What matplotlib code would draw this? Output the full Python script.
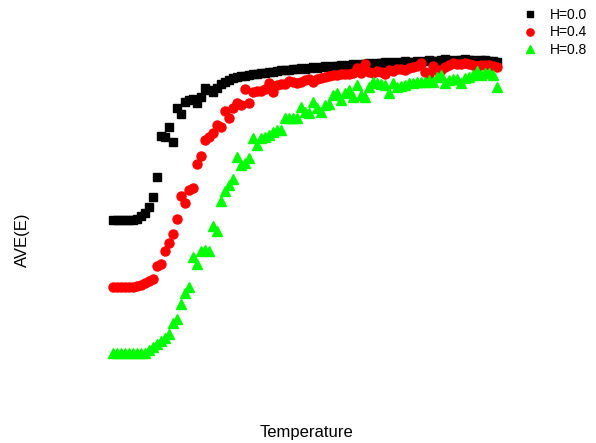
import numpy as np
import matplotlib
matplotlib.use("Agg")
import matplotlib.pyplot as plt

plt.rcParams['font.family'] = ['Liberation Sans', 'DejaVu Sans']

# temperature grid (97 points)
temps = np.round(np.arange(1, 98) * 0.1, 1)

labels = ['H=0.0', 'H=0.4', 'H=0.8']

ave_h00 = [-2.20, -2.20, -2.20, -2.20, -2.20, -2.195, -2.19, -2.16, -2.13, -2.07,
           -1.97, -1.77, -1.36, -1.37, -1.27, -1.42, -1.08, -1.14, -1.02, -1.00,
           -0.99, -1.03, -0.97, -0.88, -0.90, -0.92, -0.88, -0.84, -0.82, -0.80,
           -0.78, -0.77, -0.76, -0.76, -0.75, -0.74, -0.74, -0.73, -0.73, -0.72,
           -0.72, -0.71, -0.70, -0.70, -0.70, -0.69,
           -0.69, -0.68, -0.69, -0.68, -0.67, -0.68, -0.67, -0.66, -0.67, -0.66,
           -0.66, -0.65, -0.66, -0.65, -0.64, -0.65, -0.64, -0.64, -0.63, -0.64,
           -0.63, -0.63, -0.62, -0.63, -0.62, -0.63, -0.62, -0.61, -0.62, -0.62,
           -0.61, -0.62, -0.61, -0.60, -0.61, -0.61, -0.60, -0.59, -0.60, -0.61,
           -0.60, -0.60, -0.59, -0.60, -0.60, -0.61, -0.60, -0.60, -0.61, -0.61,
           -0.62]

ave_h04 = [-2.87, -2.87, -2.87, -2.87, -2.87, -2.87, -2.86, -2.85, -2.83, -2.81,
           -2.79, -2.66, -2.64, -2.51, -2.43, -2.34, -2.19, -1.96, -2.03, -1.90,
           -1.88, -1.64, -1.56, -1.40, -1.37, -1.33, -1.25, -1.27, -1.11, -1.18,
           -1.08, -1.03, -1.05, -0.89, -1.03, -0.92, -0.91, -0.91, -0.89, -0.83,
           -0.92, -0.85, -0.84, -0.84, -0.81, -0.82, -0.83, -0.82, -0.80, -0.79,
           -0.82, -0.79, -0.78, -0.77, -0.76, -0.75, -0.75, -0.74, -0.74, -0.74,
           -0.73, -0.68, -0.73, -0.64, -0.72, -0.73, -0.71, -0.72, -0.74, -0.70,
           -0.71, -0.69, -0.69, -0.70, -0.68, -0.67, -0.66, -0.63, -0.72, -0.74,
           -0.66, -0.70, -0.70, -0.67, -0.65, -0.63, -0.64, -0.64, -0.63, -0.64,
           -0.65, -0.66, -0.65, -0.65, -0.65, -0.66, -0.67]

ave_h08 = [-3.53, -3.53, -3.53, -3.53, -3.53, -3.53, -3.53, -3.53, -3.53, -3.50,
           -3.47, -3.44, -3.41, -3.38, -3.34, -3.23, -3.19, -3.04, -2.93, -2.87,
           -2.57, -2.64, -2.51, -2.50, -2.51, -2.26, -2.31, -2.01, -1.91, -1.85,
           -1.79, -1.57, -1.65, -1.63, -1.58, -1.38, -1.45, -1.38, -1.37, -1.35,
           -1.32, -1.30, -1.30, -1.18, -1.18, -1.18, -1.18, -1.07, -1.12, -1.13,
           -1.02, -1.08, -1.12, -1.05, -1.04, -0.95, -0.93, -1.00, -0.93, -0.90,
           -0.97, -0.85, -0.95, -0.97, -0.87, -0.82, -0.83, -0.84, -0.85, -0.93,
           -0.83, -0.87, -0.86, -0.85, -0.83, -0.83, -0.82, -0.82, -0.82, -0.80,
           -0.82, -0.77, -0.75, -0.83, -0.80, -0.79, -0.79, -0.83, -0.78, -0.77,
           -0.75, -0.71, -0.75, -0.73, -0.73, -0.75, -0.87]

fig = plt.figure(figsize=(5.96, 4.43), dpi=100)
ax = fig.add_axes([0, 0, 1, 1])

ax.plot(temps, ave_h00, ls='none', marker='s', ms=5.8, color='#000000', label=labels[0])
ax.plot(temps, ave_h04, ls='none', marker='o', ms=6.5, color='#ff0000', label=labels[1])
ax.plot(temps, ave_h08, ls='none', marker='^', ms=7.5, color='#00ff00', label=labels[2])

ax.set_xlim(-2.725, 12.175)
ax.set_ylim(-4.43, 0)
ax.axis('off')

fig.text(306 / 596, 1 - 432 / 443, 'Temperature', ha='center', va='center', fontsize=12)
fig.text(22 / 596, 1 - 240 / 443, 'AVE(E)', ha='center', va='center', rotation=90, fontsize=12)

ax.legend(loc='upper left', bbox_to_anchor=(523 / 596, 1 - 8 / 443), frameon=False,
          fontsize=10, markerscale=0.8, handlelength=1.0, handletextpad=0.95,
          labelspacing=0.25, borderpad=0, borderaxespad=0)

fig.savefig('out.png', dpi=100)
